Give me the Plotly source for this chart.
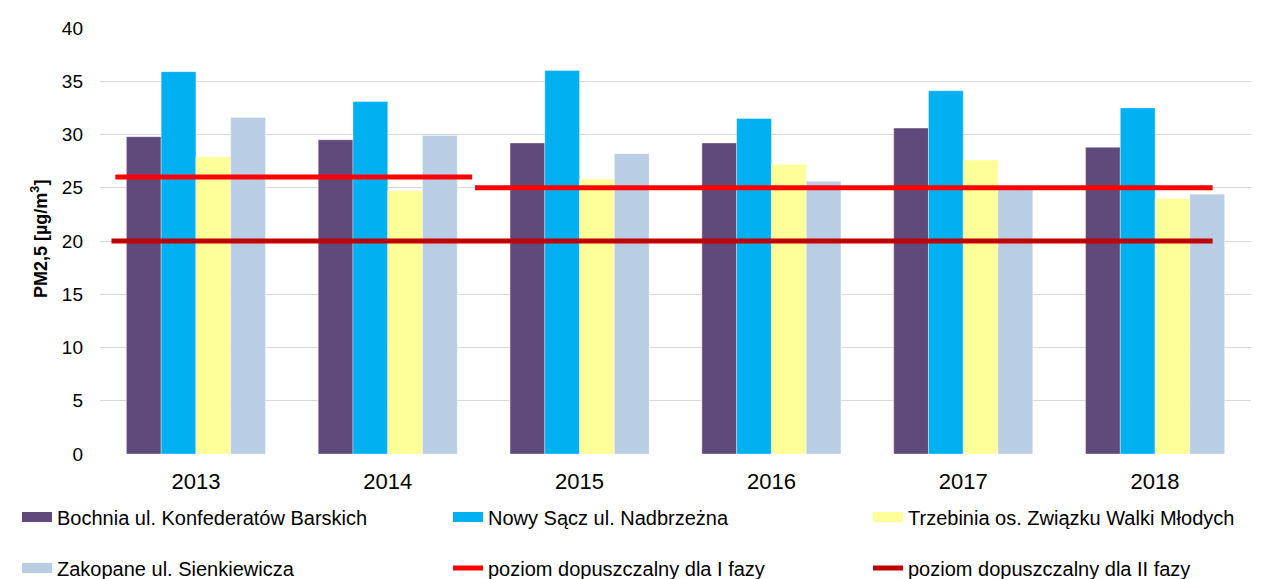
import plotly.graph_objects as go

years = ["2013", "2014", "2015", "2016", "2017", "2018"]

bochnia = [29.8, 29.5, 29.2, 29.2, 30.6, 28.8]
nowy_sacz = [35.9, 33.1, 36.0, 31.5, 34.1, 32.5]
trzebinia = [27.9, 24.7, 25.8, 27.2, 27.6, 24.0]
zakopane = [31.6, 29.9, 28.2, 25.6, 24.9, 24.4]

# limit values: (first year, last year, level)
limit_phase1 = [("2013", "2014", 26), ("2015", "2018", 25)]
limit_phase2 = [("2013", "2018", 20)]

bar_series = [
    ("Bochnia ul. Konfederatów Barskich", bochnia, "#604A7B"),
    ("Nowy Sącz ul. Nadbrzeżna", nowy_sacz, "#00B0F0"),
    ("Trzebinia os. Związku Walki Młodych", trzebinia, "#FFFF99"),
    ("Zakopane ul. Sienkiewicza", zakopane, "#B9CDE5"),
]
y_title = "PM2,5 [µg/m<sup>3</sup>]"

FONT = "Liberation Sans, Arial, sans-serif"
# page body has an 8px margin, so the figure is a bit smaller than the window
W, H = 1269, 571
x_pos = list(range(len(years)))


def seg_x(first, last, left_pad, right_pad):
    return [years.index(first) - left_pad, years.index(last) + right_pad]


fig = go.Figure()

for name, vals, color in bar_series:
    fig.add_trace(
        go.Bar(
            x=x_pos,
            y=vals,
            name=name,
            marker=dict(color=color, line=dict(color="rgba(255,255,255,0.6)", width=0.6)),
            showlegend=False,
        )
    )

# phase I limit (two segments)
pads1 = [(0.42, 0.44), (0.545, 0.30)]
for (first, last, level), (lp, rp) in zip(limit_phase1, pads1):
    fig.add_trace(
        go.Scatter(
            x=seg_x(first, last, lp, rp),
            y=[level, level],
            mode="lines",
            line=dict(color="#FF0000", width=5),
            showlegend=False,
            hoverinfo="skip",
        )
    )
for first, last, level in limit_phase2:
    fig.add_trace(
        go.Scatter(
            x=seg_x(first, last, 0.44, 0.30),
            y=[level, level],
            mode="lines",
            line=dict(color="#C00000", width=5),
            showlegend=False,
            hoverinfo="skip",
        )
    )

# legend: one small legend per entry, laid out as 3 columns x 2 rows
legend_items = [
    (bar_series[0][0], bar_series[0][2], 11),
    (bar_series[1][0], bar_series[1][2], 11),
    (bar_series[2][0], bar_series[2][2], 11),
    (bar_series[3][0], bar_series[3][2], 11),
    ("poziom dopuszczalny dla I fazy", "#FF0000", 5),
    ("poziom dopuszczalny dla II fazy", "#C00000", 5),
]
col_x = [9, 440, 860]
row_y = [62, 11]

legend_layout = {}
for i, (name, color, w) in enumerate(legend_items):
    key = "legend" if i == 0 else f"legend{i + 1}"
    fig.add_trace(
        go.Scatter(
            x=[None],
            y=[None],
            mode="lines",
            name=name,
            line=dict(color=color, width=w),
            legend=key,
        )
    )
    legend_layout[key] = dict(
        xref="container",
        yref="container",
        x=col_x[i % 3] / W,
        y=row_y[i // 3] / H,
        xanchor="left",
        yanchor="middle",
        itemwidth=30,
        font=dict(family=FONT, size=20, color="#000000"),
        bgcolor="rgba(0,0,0,0)",
        itemclick=False,
        itemdoubleclick=False,
    )

fig.add_annotation(
    text=y_title,
    xref="paper",
    yref="paper",
    x=-0.052,
    y=0.505,
    xanchor="center",
    yanchor="middle",
    textangle=-90,
    showarrow=False,
    font=dict(family=FONT, size=18, weight="bold", color="#000000"),
)

fig.update_layout(
    width=W,
    height=H,
    margin=dict(l=92, r=26, t=20, b=125, autoexpand=False),
    paper_bgcolor="white",
    plot_bgcolor="white",
    barmode="group",
    bargap=0.275,
    bargroupgap=0,
    font=dict(family=FONT, size=17, color="#000000"),
    xaxis=dict(
        tickvals=x_pos,
        ticktext=years,
        range=[-0.5, len(years) - 0.5],
        showgrid=False,
        zeroline=False,
        showline=False,
        ticks="",
        tickfont=dict(size=22),
        ticklabelstandoff=12,
        automargin=False,
    ),
    yaxis=dict(
        range=[0, 40],
        dtick=5,
        showgrid=True,
        gridcolor="#D9D9D9",
        gridwidth=1.3,
        zeroline=False,
        showline=False,
        ticks="",
        tickfont=dict(size=19),
        ticklabelstandoff=16,
        automargin=False,
    ),
    **legend_layout,
)

fig.write_html("out.html")
